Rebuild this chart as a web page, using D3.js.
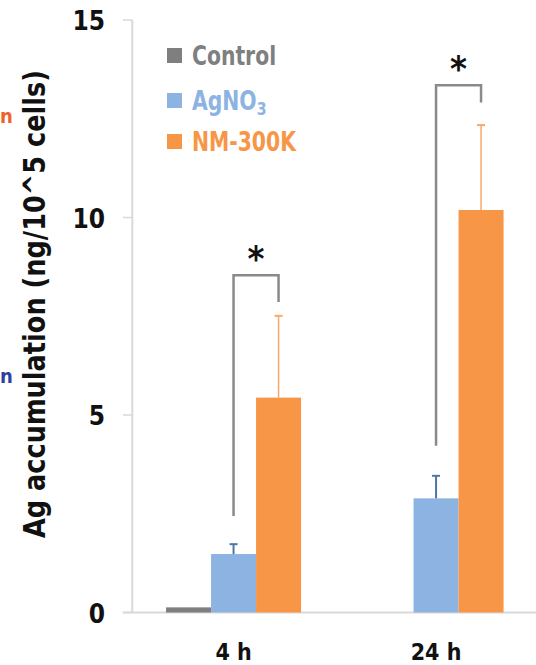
<!DOCTYPE html>
<html>
<head>
<meta charset="utf-8">
<script src="https://cdn.jsdelivr.net/npm/d3@7"></script>
<style>
  body { margin: 0; background: #fff; }
  svg text { font-family: "Liberation Sans Narrow", "DejaVu Sans Condensed", "Roboto Condensed", sans-serif; font-weight: bold; }
</style>
</head>
<body>
<svg id="chart" width="536" height="665"></svg>
<script>
// DATA
var categories = ["4 h", "24 h"];
var series = ["Control", "AgNO3", "NM-300K"];
var control = [0.13, 0];
var agno3 = [1.48, 2.89];
var nm300k = [5.44, 10.19];
var agno3Err = [0.25, 0.57];
var nm300kErr = [2.07, 2.15];
var controlErr = [0, 0];
var yTicks = [0, 5, 10, 15];
// significance brackets: [category, left series, right series, top value, left bottom, right bottom]
var sigBrackets = [
  ["4 h", "AgNO3", "NM-300K", 8.54, 2.44, 7.86],
  ["24 h", "AgNO3", "NM-300K", 13.35, 4.22, 12.91]
];

var colors = { "Control": "#7f7f7f", "AgNO3": "#8db3e2", "NM-300K": "#f79646" };
var errColors = { "Control": "#7f7f7f", "AgNO3": "#4f76a8", "NM-300K": "#f9a86a" };

var values = { "Control": control, "AgNO3": agno3, "NM-300K": nm300k };
var errs = { "Control": controlErr, "AgNO3": agno3Err, "NM-300K": nm300kErr };

var svg = d3.select("#chart");

// SCALES
var y = d3.scaleLinear().domain([0, 15]).range([612.5, 20]);
var x0 = d3.scaleBand().domain(categories).range([132.3, 537.3]).padding(0);
var groupW = 135;
var x1 = d3.scaleBand().domain(series)
  .range([x0.bandwidth() / 2 - groupW / 2, x0.bandwidth() / 2 + groupW / 2]);

// AXES
svg.append("line")
  .attr("x1", 132.3).attr("x2", 132.3)
  .attr("y1", y(15)).attr("y2", y(0))
  .attr("stroke", "#d9d9d9").attr("stroke-width", 2);
svg.append("line")
  .attr("x1", 122.7).attr("x2", 536)
  .attr("y1", y(0)).attr("y2", y(0))
  .attr("stroke", "#d9d9d9").attr("stroke-width", 2);

svg.selectAll(".ytick").data(yTicks).enter().append("line")
  .attr("class", "ytick")
  .attr("x1", 123).attr("x2", 132.3)
  .attr("y1", function(d) { return y(d); })
  .attr("y2", function(d) { return y(d); })
  .attr("stroke", "#d9d9d9").attr("stroke-width", 1.5);

svg.selectAll(".ylab").data(yTicks).enter().append("text")
  .attr("class", "ylab")
  .attr("x", 105)
  .attr("y", function(d) { return y(d) + 1; })
  .attr("dy", "0.35em")
  .attr("text-anchor", "end")
  .attr("font-size", 26)
  .attr("fill", "#111")
  .text(function(d) { return d; });

svg.selectAll(".xlab").data(categories).enter().append("text")
  .attr("class", "xlab")
  .attr("x", function(d) { return x0(d) + x0.bandwidth() / 2; })
  .attr("y", 660)
  .attr("text-anchor", "middle")
  .attr("font-size", 23)
  .attr("fill", "#111")
  .text(function(d) { return d; });

svg.append("text")
  .attr("transform", "translate(45," + 304 + ") rotate(-90)")
  .attr("text-anchor", "middle")
  .attr("font-size", 30)
  .attr("fill", "#111")
  .attr("textLength", 468)
  .attr("lengthAdjust", "spacingAndGlyphs")
  .text("Ag accumulation (ng/10^5 cells)");

// BARS
var groups = svg.selectAll(".group").data(categories).enter().append("g")
  .attr("class", "group")
  .attr("transform", function(d) { return "translate(" + x0(d) + ",0)"; });

groups.selectAll("rect").data(function(c, i) {
    return series.map(function(s) { return { s: s, v: values[s][i], e: errs[s][i] }; });
  }).enter().append("rect")
  .attr("x", function(d) { return x1(d.s); })
  .attr("width", x1.bandwidth())
  .attr("y", function(d) { return y(d.v); })
  .attr("height", function(d) { return y(0) - y(d.v); })
  .attr("fill", function(d) { return colors[d.s]; });

// ERROR BARS (plus only)
var eb = groups.selectAll(".err").data(function(c, i) {
    return series.map(function(s) { return { s: s, v: values[s][i], e: errs[s][i] }; })
      .filter(function(d) { return d.e > 0; });
  }).enter().append("g").attr("class", "err");
eb.append("line")
  .attr("x1", function(d) { return x1(d.s) + x1.bandwidth() / 2; })
  .attr("x2", function(d) { return x1(d.s) + x1.bandwidth() / 2; })
  .attr("y1", function(d) { return y(d.v); })
  .attr("y2", function(d) { return y(d.v + d.e); })
  .attr("stroke", function(d) { return errColors[d.s]; })
  .attr("stroke-width", function(d) { return d.s == "AgNO3" ? 2 : 1.5; });
eb.append("line")
  .attr("x1", function(d) { return x1(d.s) + x1.bandwidth() / 2 - 4; })
  .attr("x2", function(d) { return x1(d.s) + x1.bandwidth() / 2 + 4; })
  .attr("y1", function(d) { return y(d.v + d.e); })
  .attr("y2", function(d) { return y(d.v + d.e); })
  .attr("stroke", function(d) { return errColors[d.s]; })
  .attr("stroke-width", 2);

// SIGNIFICANCE
sigBrackets.forEach(function(b) {
  var xl = x0(b[0]) + x1(b[1]) + x1.bandwidth() / 2;
  var xr = x0(b[0]) + x1(b[2]) + x1.bandwidth() / 2;
  svg.append("path")
    .attr("d", "M" + xl + "," + y(b[4]) + "V" + y(b[3]) + "H" + xr + "V" + y(b[5]))
    .attr("fill", "none")
    .attr("stroke", "#8a8a8a")
    .attr("stroke-width", 2.5);
  svg.append("text")
    .attr("x", (xl + xr) / 2)
    .attr("y", y(b[3]) - 4)
    .attr("text-anchor", "middle")
    .attr("font-size", 36)
    .attr("font-family", "DejaVu Sans")
    .attr("fill", "#111")
    .text("*");
});

// LEGEND
var legend = svg.selectAll(".legend").data(series).enter().append("g")
  .attr("class", "legend")
  .attr("transform", function(d, i) { return "translate(167," + [55.5, 100.5, 141.5][i] + ")"; });
legend.append("rect")
  .attr("x", 0).attr("y", -7.5)
  .attr("width", 15).attr("height", 15)
  .attr("fill", function(d) { return colors[d]; });
var lt = legend.append("text")
  .attr("transform", "translate(25,9) scale(0.87,1)")
  .attr("font-size", 26)
  .attr("fill", function(d) { return colors[d]; });
lt.each(function(d) {
  var t = d3.select(this);
  if (d == "AgNO3") {
    t.append("tspan").text("AgNO");
    t.append("tspan").attr("font-size", 18).attr("dy", 5).text("3");
  } else {
    t.text(d);
  }
});

// edge fragments from neighbouring panel
svg.append("text").attr("x", 0).attr("y", 123).attr("font-size", 20)
  .attr("fill", "#f0602a").text("n");
svg.append("text").attr("x", 0).attr("y", 383).attr("font-size", 20)
  .attr("fill", "#2f3f9f").text("n");
</script>
</body>
</html>
